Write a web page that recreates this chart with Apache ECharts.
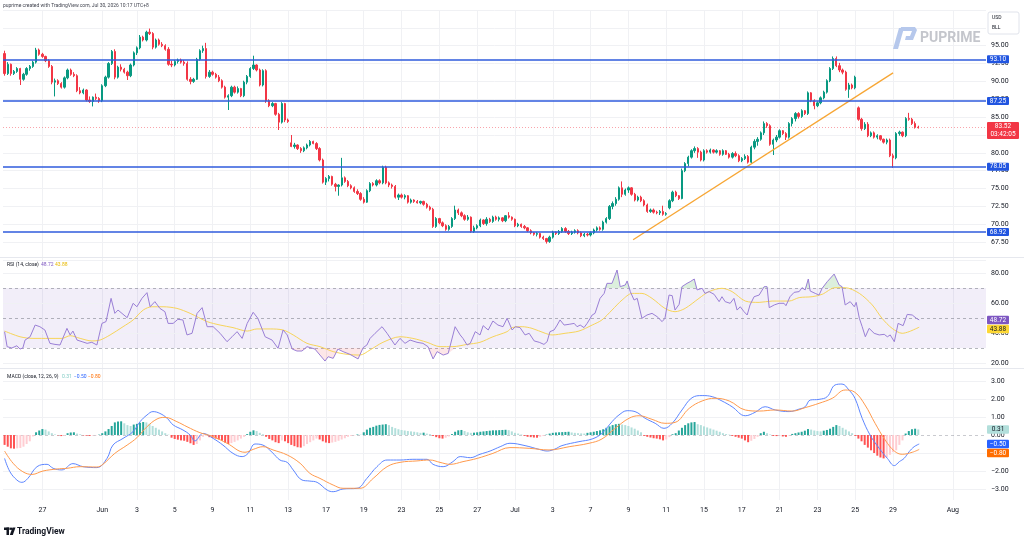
<!DOCTYPE html>
<html><head><meta charset="utf-8">
<script src="https://cdn.jsdelivr.net/npm/echarts@6.0.0/dist/echarts.min.js"></script>
<style>html,body{margin:0;padding:0;background:#fff}#c{width:1024px;height:542px}</style>
</head><body><div id="c"></div><script>
// ---------- DATA ----------
const dateTicks = [[12,'27'],[31,'Jun'],[42,'3'],[54,'5'],[66,'9'],[78,'11'],[90,'13'],[102,'17'],[114,'19'],[126,'23'],[138,'25'],[150,'27'],[162,'Jul'],[174,'3'],[186,'7'],[198,'9'],[210,'11'],[222,'15'],[234,'17'],[246,'21'],[258,'23'],[270,'25'],[282,'29'],[301,'Aug']];
// 4H bars: [open, high, low, close]
const ohlc = [
[93.9,94.3,90.8,91.1],[91.1,92.7,90.9,92.4],[92.4,92.5,90.8,91.1],[91.1,91.6,90.9,91.4],[91.4,92.0,91.2,91.8],[91.8,91.9,89.5,90.3],
[90.3,91.2,90.1,91.0],[91.0,92.0,90.8,91.8],[91.8,92.3,91.5,92.1],[92.1,92.9,91.9,92.7],[92.7,94.7,92.5,94.4],[94.4,94.6,93.6,93.8],
[93.8,94.0,93.3,93.5],[93.5,93.6,92.7,92.9],[92.9,93.1,91.9,92.1],[92.1,92.3,89.6,89.9],[89.9,90.4,87.9,90.1],[90.1,90.3,89.5,89.7],
[89.7,89.9,89.0,89.2],[89.2,90.7,89.0,90.5],[90.5,91.8,90.3,91.6],[91.6,91.8,90.8,91.0],[91.0,91.3,90.6,90.8],[90.8,91.0,88.5,88.7],
[88.7,89.2,88.2,88.4],[88.4,89.0,88.2,88.8],[88.8,88.9,87.2,87.4],[87.4,87.9,87.0,87.2],[87.2,87.9,86.5,87.8],[87.8,88.3,87.4,87.6],
[87.6,87.8,87.0,87.3],[87.3,89.6,87.1,89.4],[89.4,90.8,89.2,90.6],[90.6,92.7,90.4,92.5],[92.5,94.4,92.3,94.2],[94.2,94.5,90.3,90.6],
[90.6,92.2,90.4,92.0],[92.0,92.4,91.4,91.7],[91.7,91.9,91.1,91.3],[91.3,91.5,90.2,90.8],[90.8,92.5,90.6,92.3],[92.3,94.2,92.1,94.0],
[94.0,94.9,93.7,94.7],[94.7,96.5,94.5,96.2],[96.2,96.4,95.6,95.8],[95.8,97.1,95.6,96.9],[96.9,97.4,96.5,96.7],[96.7,96.9,94.5,94.8],
[94.8,96.0,94.6,95.8],[95.8,96.0,95.0,95.2],[95.2,95.5,94.8,95.0],[95.0,95.2,94.3,94.5],[94.5,94.8,92.2,92.4],[92.4,92.9,92.0,92.3],
[92.3,93.0,92.1,92.8],[92.8,93.2,92.5,93.0],[93.0,93.2,92.5,92.7],[92.7,93.0,92.2,92.5],[92.5,92.8,90.1,90.3],[90.3,90.6,89.6,90.0],
[90.0,90.5,89.8,90.3],[90.3,93.3,90.2,93.1],[93.1,94.5,92.9,94.3],[94.3,95.0,94.0,94.6],[94.6,95.4,90.4,90.7],[90.7,91.6,90.5,91.3],
[91.3,91.5,90.8,91.0],[91.0,91.2,90.4,90.6],[90.6,90.9,89.9,90.1],[90.1,90.3,89.0,89.2],[89.2,89.4,87.6,87.8],[87.8,88.2,86.0,88.0],
[88.0,89.4,87.8,89.2],[89.2,89.4,88.3,88.5],[88.5,89.3,88.3,89.0],[89.0,89.1,87.8,88.0],[88.0,90.1,87.8,89.9],[89.9,90.9,89.6,90.7],
[90.7,92.0,90.5,91.8],[91.8,93.6,91.6,92.3],[92.3,92.4,91.4,91.6],[91.6,91.8,89.3,89.5],[89.5,91.7,89.3,91.5],[91.5,91.7,87.0,87.3],
[87.3,87.5,86.4,86.6],[86.6,87.1,86.4,86.9],[86.9,87.0,85.2,85.4],[85.4,85.6,83.2,84.3],[84.3,87.1,84.1,86.9],[86.9,87.0,84.3,84.6],
[84.6,84.8,84.2,84.4],[81.4,82.5,80.8,80.9],[80.9,81.4,80.6,81.1],[81.1,81.2,80.4,80.6],[80.6,80.8,80.0,80.3],[80.3,80.9,80.1,80.7],
[80.7,81.3,80.5,81.1],[81.1,81.8,80.9,81.6],[81.6,81.7,81.2,81.3],[81.3,81.5,80.4,80.6],[80.6,80.8,78.8,79.0],[79.0,79.2,75.7,75.9],
[75.9,76.6,75.5,76.4],[76.4,76.9,76.0,76.7],[76.7,76.8,75.4,75.6],[75.6,75.8,74.6,75.3],[75.3,75.6,74.0,75.5],[75.5,79.3,75.3,76.5],
[76.5,76.7,75.8,76.0],[76.0,76.2,75.2,75.4],[75.4,75.6,74.9,75.1],[75.1,75.3,74.4,74.6],[74.6,74.9,74.1,74.3],[74.3,74.5,73.3,73.5],
[73.5,73.8,72.9,73.1],[73.1,74.9,73.0,74.7],[74.7,75.9,74.5,75.7],[75.7,75.9,75.3,75.5],[75.5,76.3,75.3,76.1],[76.1,76.3,75.6,75.8],
[75.8,78.2,75.6,78.0],[78.0,78.2,75.6,75.8],[75.8,76.0,75.2,75.5],[75.5,75.7,75.0,75.3],[75.3,75.5,73.6,73.8],[73.8,74.3,73.4,74.1],
[74.1,74.3,73.6,73.8],[73.8,74.2,73.5,74.0],[74.0,74.1,72.9,73.1],[73.1,73.6,72.9,73.4],[73.4,73.5,73.0,73.2],[73.2,73.4,72.9,73.0],
[73.0,73.3,72.8,73.2],[73.2,73.3,72.6,72.8],[72.8,73.0,72.2,72.4],[72.4,72.6,71.9,72.1],[72.1,72.3,69.5,69.7],[69.7,71.0,69.5,70.8],
[70.8,70.9,70.0,70.2],[70.2,70.4,69.6,69.8],[69.8,70.0,69.1,69.3],[69.3,69.9,69.1,69.7],[69.7,71.0,69.5,70.8],[70.8,72.6,70.6,72.0],
[72.0,72.2,71.3,71.6],[71.6,71.8,71.0,71.2],[71.2,71.4,70.5,70.7],[70.7,71.3,70.5,71.0],[71.0,71.1,68.8,69.0],[69.0,69.8,68.8,69.5],
[69.5,70.0,69.3,69.8],[69.8,70.8,69.6,70.6],[70.6,70.7,69.9,70.1],[70.1,71.0,69.8,70.7],[70.7,70.9,70.2,70.4],[70.4,71.2,70.2,71.0],
[71.0,71.2,70.5,70.7],[70.7,71.1,70.4,70.9],[70.9,71.0,70.3,70.5],[70.5,71.3,70.3,71.2],[71.2,71.7,70.8,71.0],[71.0,71.1,70.5,70.7],
[70.7,70.8,69.6,69.8],[69.8,70.2,69.6,70.0],[70.0,70.1,69.5,69.7],[69.7,69.9,69.3,69.5],[69.5,69.6,68.9,69.1],[69.1,69.3,68.6,68.8],
[68.8,68.9,68.4,68.6],[68.6,68.9,68.3,68.7],[68.7,68.8,68.0,68.2],[68.2,68.4,67.8,68.0],[68.0,68.1,67.3,67.6],[67.6,68.4,67.4,68.2],
[68.2,69.1,68.0,68.9],[68.9,69.0,68.5,68.7],[68.7,69.2,68.5,69.0],[69.0,69.6,68.8,69.4],[69.4,69.6,68.8,69.0],[69.0,69.2,68.5,68.7],
[68.7,69.1,68.5,68.9],[68.9,69.3,68.7,69.1],[69.1,69.3,68.6,68.8],[68.8,69.0,68.2,68.4],[68.4,68.8,68.2,68.6],[68.6,68.8,68.3,68.5],
[68.5,69.0,68.3,68.8],[68.8,69.4,68.6,69.2],[69.2,69.7,69.0,69.5],[69.5,69.7,69.1,69.3],[69.3,70.5,69.1,70.3],[70.3,71.0,70.1,70.8],
[70.8,72.7,70.6,72.5],[72.5,73.2,72.1,72.9],[72.9,73.8,72.6,73.5],[73.5,75.3,73.3,75.1],[75.1,76.0,73.8,74.2],[74.2,75.0,74.0,74.8],
[74.8,75.3,74.4,75.1],[75.1,75.2,74.0,74.2],[74.2,74.4,73.2,73.4],[73.4,74.0,73.2,73.8],[73.8,74.0,73.1,73.3],[73.3,73.5,72.5,72.7],
[72.7,72.9,71.6,71.8],[71.8,72.2,71.6,72.0],[72.0,72.2,71.5,71.7],[71.7,71.9,71.4,71.6],[71.6,72.0,71.3,71.8],[71.8,72.6,71.2,71.4],
[71.4,71.7,71.2,71.5],[72.3,73.5,72.1,73.3],[73.3,74.7,73.1,74.5],[74.5,74.7,73.8,74.0],[74.0,74.1,73.4,73.6],[73.6,77.8,73.5,77.5],
[77.5,78.7,77.3,78.5],[78.5,79.6,78.1,79.4],[79.4,80.5,79.2,80.3],[80.3,80.9,80.0,80.6],[80.6,80.8,79.3,80.1],[80.1,80.3,78.8,79.0],
[79.0,80.5,78.8,80.3],[80.3,80.5,79.9,80.1],[80.1,80.6,79.9,80.4],[80.4,80.5,79.9,80.1],[80.1,80.5,79.9,80.3],[80.3,80.4,79.6,79.8],
[79.8,80.5,79.6,80.3],[80.3,80.4,79.7,79.8],[79.8,80.0,79.2,79.4],[79.4,80.1,79.2,79.9],[79.9,80.2,79.4,79.6],[79.6,79.8,78.7,78.9],
[78.9,79.4,78.7,79.2],[79.2,79.8,79.0,79.5],[79.5,79.7,78.5,78.7],[78.7,81.0,78.5,80.8],[80.8,81.9,80.5,81.6],[81.6,82.2,81.0,81.9],
[81.9,83.0,81.7,82.8],[82.8,84.4,82.5,84.1],[84.1,84.3,83.5,83.8],[83.8,84.0,81.0,81.2],[81.2,82.0,79.7,81.8],[81.8,82.5,81.5,82.2],
[82.2,83.3,82.0,83.1],[83.1,83.2,82.5,82.7],[82.7,82.9,81.8,82.2],[82.2,84.3,82.0,84.1],[84.1,85.0,83.7,84.8],[84.8,85.7,84.4,85.5],
[85.5,85.7,84.8,85.1],[85.1,86.1,84.9,85.9],[85.9,86.0,85.3,85.5],[85.5,88.6,85.3,88.4],[88.4,88.5,87.1,87.3],[87.3,87.5,86.1,86.6],
[86.6,87.2,86.4,87.0],[87.0,87.9,86.8,87.7],[87.7,88.7,87.5,88.5],[88.5,90.3,88.3,90.1],[90.1,92.0,89.9,91.8],[91.8,93.5,91.6,93.2],
[93.2,93.5,92.0,92.2],[92.2,92.6,91.3,91.6],[91.6,91.8,91.0,91.3],[91.3,91.5,88.7,88.9],[88.9,89.8,87.7,89.5],[89.5,89.7,88.9,89.1],
[89.1,90.8,88.9,90.6],[86.3,86.5,84.5,84.7],[84.7,84.9,83.1,83.4],[83.4,84.3,83.2,84.0],[84.0,84.3,82.2,82.4],[82.4,83.0,82.2,82.8],
[82.8,83.0,82.0,82.2],[82.2,82.6,81.9,82.4],[82.4,82.5,81.7,81.9],[81.9,82.0,81.3,81.5],[81.5,82.0,81.2,81.8],[81.8,82.0,79.4,79.6],
[79.6,79.9,77.9,79.3],[79.3,82.9,79.1,82.7],[82.7,83.1,82.4,82.9],[82.9,83.0,82.2,82.4],[82.4,85.0,82.2,84.8],[84.8,85.6,84.5,84.7],
[84.7,84.9,83.9,84.1],[84.1,84.4,83.4,83.6],[83.6,83.8,83.4,83.52]
];
const levels = [93.10, 87.25, 78.05, 68.92];
const trendLine = [[199.5, 67.83], [282, 91.2]];
const lastPrice = 83.52;
const countdown = '03:42:05';

// RSI (bar index, value)
const rsi = [[0,40.9],[0.8,30.9],[2.3,30],[3.9,31.5],[4.9,29.3],[5.8,30],[6.5,35.3],[8.1,37.5],[9.7,45.3],[11.2,44.2],[12.8,42],[14.4,33.1],[16,32.4],[17.6,32],[19.8,43.1],[20.8,38.7],[21.7,41.3],[23,35.3],[24.6,34.2],[26.2,33.1],[27.7,33.8],[29.3,32],[30.9,46.4],[32.2,47.6],[33.8,63.1],[35,53.1],[36,55.3],[38.9,50.2],[40.8,59.8],[42,57.5],[43.6,63.1],[45.2,66.9],[46.2,57.5],[47.7,60.9],[49.3,56.4],[50.9,54.2],[51.9,46.4],[53.5,46.4],[55,49.1],[56.6,48.7],[57.9,38.7],[59.5,39.8],[61.1,53.1],[62.7,56.9],[64.3,44.2],[66.2,44.2],[68.4,39.8],[70.6,34.2],[72.2,37.5],[73.8,40.9],[75.4,36.4],[77,46.4],[78.9,53.8],[80.4,49.8],[82.7,37.5],[84.9,35.3],[86.8,29.8],[88.4,42],[89.7,38.7],[91.3,29.3],[92.8,28],[94.4,28],[96,30.9],[98.5,29.3],[100.1,25.3],[101.7,21.3],[102.7,24.2],[104.3,23.1],[105.8,29.3],[107.4,27.6],[109.6,25.8],[112.2,22.7],[113.8,30.2],[115,32],[116,36.4],[117.6,39.8],[119.8,44.2],[121.4,39.8],[123.9,32],[125.5,36.4],[127.1,33.1],[128.7,35.3],[130.9,33.8],[132.8,33.1],[134.4,30.9],[136,22.7],[137.3,27.6],[139.2,25.3],[140.8,26.4],[143,44.2],[144.6,38.7],[145.5,36.4],[146.8,32],[147.8,33.1],[149.4,40.9],[150.9,38.7],[151.9,44.9],[153.5,42],[155,48],[156.6,45.3],[158.2,44.2],[159.5,49.8],[161.1,42],[162.1,44.2],[163.6,43.6],[165.2,38.7],[166.5,39.8],[168.1,34.7],[169.7,33.8],[171.2,32.4],[172.2,34.2],[173.1,40.9],[174.4,42],[175.4,45.3],[176.3,48.7],[177.6,45.3],[179.2,45.8],[180.8,46.4],[181.7,44.2],[182.7,45.3],[183.9,43.6],[184.9,46.4],[186.5,52],[187.4,53.1],[189,63.1],[190.3,66.4],[191.2,73.1],[192.8,73.1],[194.4,82],[195.4,70.9],[197,72],[197.6,74.7],[198.6,67.6],[199.8,62],[200.8,63.1],[202.3,49.8],[203.9,52],[205.5,53.1],[207.1,50.9],[208.7,47.6],[209.6,49.8],[210.9,65.3],[211.9,64.9],[212.8,55.3],[214.1,59.1],[215,70.9],[216.6,73.1],[217.6,74.2],[218.9,76],[219.8,68.7],[221.4,69.8],[222.3,66.4],[223.6,67.6],[225.2,65.8],[226.8,60.9],[227.7,64.2],[228.7,60.9],[230.3,59.8],[231.5,63.1],[232.5,55.3],[233.5,57.5],[234.7,54.2],[235.7,52],[236.6,58.7],[237.9,64.2],[239.5,65.3],[241.1,70.9],[242,70.9],[242.7,56.9],[244.3,58.7],[245.8,59.8],[247.4,59.8],[248,58.2],[249.3,64.2],[250.6,67.1],[252.2,67.6],[253.1,70.2],[254.1,68.7],[255.1,76],[255.7,68],[257.3,66.4],[258.5,65.3],[259.5,69.8],[261.1,74.2],[263.3,79.3],[264.9,72],[265.8,70.9],[266.8,58.7],[268.4,60.9],[269.7,57.5],[270.3,60.4],[271.3,49.8],[272.2,44.2],[273.2,37.5],[274.4,43.1],[276,39.8],[277.6,38.7],[279.2,39.1],[280.2,37.5],[281.1,38.7],[282.4,34.2],[283,35.3],[283.6,46.4],[285.2,44.9],[286.5,52.4],[288.1,52],[289.4,49.8],[290.3,48.72]];
const rsiMA = [[0,41.3],[4.9,37.5],[9,36.4],[14.4,36.4],[18.2,36.4],[20.8,38.2],[24,36.4],[27.7,34.7],[30.3,35.3],[33.5,38.7],[37.6,44.2],[40.8,48.7],[44,55.3],[46.8,57.5],[50.3,57.5],[54.7,56.4],[58.9,53.1],[64.3,47.6],[68.4,45.3],[72.5,43.6],[77,41.3],[80.1,42.7],[84.3,42.7],[88.4,42],[91.6,38.7],[96,33.1],[100.1,30.9],[104.3,27.6],[108.7,25.8],[112.8,25.3],[116,28.7],[120.1,33.8],[125.5,37.5],[129.6,36.4],[134.1,33.8],[138.2,30.9],[142.3,30.9],[146.8,32.4],[150.9,33.8],[155,37.5],[159.5,40.9],[161.1,43.6],[164.3,44.2],[167.4,43.1],[171.6,39.8],[173.8,38.7],[177.9,39.8],[182.3,41.3],[186.5,45.3],[189.6,48.7],[192.8,55.3],[196,62],[199.2,66.4],[202.3,66.4],[205.5,63.1],[209.6,56.4],[212.8,54.2],[216,56.4],[220.4,63.1],[223.6,67.6],[227.7,69.8],[230.9,67.6],[235.1,61.3],[239.5,60.4],[243.6,61.3],[249,61.3],[252.2,63.6],[256.3,64.2],[259.5,65.8],[263.6,70.2],[266.8,70.2],[271.3,66.4],[275.4,58.7],[278.5,49.8],[281.7,43.1],[284.9,39.8],[287.1,40.9],[290.3,43.88]];

// MACD (12,26,9)
const macdLine = [[0,-1.3],[1.7,-2.04],[3.9,-2.5],[5.5,-2.63],[7.4,-2.41],[10.3,-1.76],[13.5,-1.63],[15.4,-1.85],[18.2,-1.94],[21.7,-1.59],[24.9,-1.76],[29.3,-1.81],[32.5,-1.3],[34.4,-0.56],[37.6,-0.19],[40.8,0.19],[43,0.74],[45.2,1.11],[47.1,1.3],[49.3,1.2],[51.6,0.93],[53.5,0.56],[56.6,0.28],[58.9,0],[60.4,-0.33],[63,0.09],[66.2,-0.19],[69.3,-0.56],[72.5,-1.02],[75.4,-1.2],[77.3,-1.02],[79.5,-0.5],[82,-0.56],[84.9,-0.96],[87.4,-1.39],[89.7,-1.52],[91.6,-1.94],[94.4,-2.5],[96.9,-2.56],[99.2,-2.63],[102.4,-3.06],[104.3,-3.15],[107.4,-3.0],[111.9,-2.96],[115,-2.41],[118.2,-1.76],[121.4,-1.39],[125.5,-1.39],[129.6,-1.35],[134.1,-1.35],[136,-1.63],[139.2,-1.76],[142.3,-1.48],[144.6,-1.2],[147.8,-1.26],[150.9,-1.07],[154.1,-0.89],[157.3,-0.65],[160.4,-0.46],[165.2,-0.59],[169.7,-0.8],[172.2,-0.89],[174.7,-0.78],[176.9,-0.59],[182.3,-0.37],[186.5,-0.22],[189.6,0.09],[192.8,0.74],[195,1.11],[197.6,1.35],[200.1,1.3],[203.3,0.93],[206.5,0.65],[209.3,0.37],[211.9,0.65],[215,1.39],[218.2,2.07],[221.4,2.19],[224.6,2.13],[227.7,1.89],[230.9,1.57],[235.1,1.07],[238.2,1.26],[241.4,1.57],[244.6,1.39],[249,1.3],[252.2,1.44],[254.1,1.57],[255.7,1.94],[258.5,1.98],[261.1,2.13],[263.6,2.78],[265.8,2.83],[268,2.5],[269.9,2.04],[272.2,0.93],[274.7,0],[277.6,-0.74],[280.2,-1.3],[282.4,-1.7],[284,-1.48],[285.5,-1.3],[287.1,-0.93],[288.7,-0.65],[290.3,-0.5]];
const signalLine = [[0,-0.89],[2.7,-1.57],[5.8,-2.04],[8.7,-2.19],[12.2,-2.0],[16.6,-1.89],[19.8,-1.85],[24,-1.76],[29.3,-1.78],[31.2,-1.63],[35,-1.02],[38.9,-0.56],[42,-0.15],[45.2,0.46],[48.4,0.89],[50.9,0.98],[54.7,0.74],[57.9,0.46],[62,0.13],[66.2,-0.09],[70.6,-0.46],[76.3,-0.96],[78.9,-0.8],[82,-0.65],[85.2,-0.83],[89.7,-1.11],[93.8,-1.57],[96.9,-2.13],[100.1,-2.41],[104.3,-2.78],[107.4,-2.96],[112.8,-2.96],[117,-2.41],[121.4,-1.76],[125.5,-1.52],[130.9,-1.44],[135,-1.39],[138.2,-1.52],[141.4,-1.63],[145.5,-1.48],[150,-1.3],[155,-1.02],[160.4,-0.7],[166.5,-0.74],[172.8,-0.83],[179.2,-0.65],[185.5,-0.46],[189.6,-0.22],[193.8,0.37],[198.2,0.93],[201.4,1.07],[205.5,0.87],[209.6,0.65],[212.8,0.7],[217.3,1.48],[221.4,1.89],[225.5,2.04],[230,1.89],[235.1,1.39],[239.5,1.33],[244.6,1.39],[250,1.33],[254.1,1.52],[258.5,1.76],[262.7,2.04],[266.8,2.5],[269.9,2.37],[273.1,1.67],[276.3,0.65],[279.5,-0.28],[282.4,-0.89],[284.9,-1.07],[288.1,-0.96],[290.3,-0.8]];
const histogram = [
-0.55,-0.65,-0.74,-0.76,-0.74,-0.72,-0.65,-0.5,-0.35,-0.08,0.15,0.25,0.33,0.3,0.2,0.1,0.03,-0.02,-0.06,-0.04,
0.1,0.14,0.15,0.08,0.04,-0.02,-0.04,-0.05,-0.03,-0.02,0.02,0.1,0.2,0.33,0.5,0.7,0.75,0.76,0.65,0.55,
0.5,0.58,0.62,0.68,0.72,0.7,0.62,0.5,0.4,0.3,0.2,0.1,0.02,-0.15,-0.22,-0.26,-0.3,-0.32,-0.38,-0.46,
-0.55,-0.5,-0.3,-0.1,-0.05,-0.12,-0.16,-0.2,-0.25,-0.32,-0.42,-0.5,-0.45,-0.38,-0.3,-0.2,-0.1,0.05,0.18,0.26,
0.22,0.12,0.04,-0.1,-0.22,-0.3,-0.4,-0.45,-0.3,-0.35,-0.45,-0.55,-0.62,-0.68,-0.7,-0.62,-0.5,-0.4,-0.3,-0.2,
-0.25,-0.35,-0.42,-0.45,-0.42,-0.38,-0.32,-0.25,-0.18,-0.1,-0.05,-0.02,0.03,0.02,0.15,0.3,0.4,0.45,0.52,0.56,
0.58,0.6,0.55,0.45,0.38,0.32,0.28,0.25,0.22,0.2,0.18,0.15,0.12,0.13,0.08,0.05,-0.05,-0.12,-0.18,-0.2,
-0.15,-0.08,0.05,0.18,0.26,0.28,0.22,0.15,0.12,0.13,0.15,0.18,0.2,0.22,0.24,0.26,0.26,0.27,0.28,0.29,
0.27,0.2,0.12,0.08,0.03,-0.05,-0.1,-0.12,-0.14,-0.15,-0.1,-0.05,0.02,0.08,0.12,0.14,0.15,0.16,0.17,0.18,
0.14,0.12,0.1,0.09,0.08,0.12,0.15,0.18,0.22,0.26,0.32,0.4,0.48,0.55,0.6,0.62,0.58,0.55,0.5,0.42,
0.35,0.25,0.15,-0.05,-0.1,-0.14,-0.18,-0.2,-0.24,-0.3,-0.25,-0.12,0.04,0.1,0.25,0.4,0.55,0.65,0.7,0.72,
0.6,0.55,0.48,0.42,0.36,0.3,0.24,0.18,0.1,0.05,0.02,-0.05,-0.1,-0.15,-0.2,-0.3,-0.4,-0.32,-0.22,-0.1,
0.1,0.18,0.1,0.03,-0.05,-0.06,-0.03,-0.08,-0.1,-0.03,0.06,0.1,0.14,0.18,0.24,0.33,0.3,0.25,0.22,0.2,
0.24,0.28,0.35,0.45,0.55,0.5,0.4,0.3,0.2,0.1,-0.05,-0.2,-0.35,-0.55,-0.7,-0.85,-1.0,-1.15,-1.25,-1.3,
-1.25,-1.1,-0.95,-0.85,-0.55,-0.3,0.08,0.22,0.32,0.35,0.31
];
const priceTickHide = [65, 100];
const rsiBands = {overbought: 70, middle: 50, oversold: 30};

// ---------- BUILD ----------
const N = 312;
const FONT = 'Roboto, "Liberation Sans", Arial, sans-serif';
const cats = Array.from({length: N}, (_, i) => i);
const labelMap = {};
dateTicks.forEach(([i, t]) => { labelMap[i] = t; });
const axisCats = cats.map(i => labelMap[i] || '');
const fmt = v => (v < 0 ? '\u2212' : '') + Math.abs(v).toFixed(2);
const candleData = ohlc.map(b => [b[0], b[3], b[2], b[1]]);
const histData = histogram.map((v, i) => {
  const p = i > 0 ? histogram[i - 1] : v;
  const c = v >= 0 ? (v >= p ? '#26a69a' : '#b2dfdb') : (v <= p ? '#ff5252' : '#ffcdd2');
  return {value: [i, v], itemStyle: {color: c}};
});
// clamped copies of the RSI used only to paint the overbought / oversold fills
const rsiOB = rsi.map(([x, v]) => [x, Math.max(v, rsiBands.overbought)]);
const rsiOS = rsi.map(([x, v]) => [x, Math.min(v, rsiBands.oversold)]);
const GRID_LINE = '#f0f1f4';
const hLine = (v, extra) => Object.assign({yAxis: v, lineStyle: {color: GRID_LINE, width: 1, type: 'solid'}, label: {show: false}}, extra || {});

const chart = echarts.init(document.getElementById('c'), null, {renderer: 'canvas'});
const axisLabelBase = {fontSize: 7, color: '#131722', fontFamily: FONT, margin: 5};

chart.setOption({
  animation: false,
  backgroundColor: '#ffffff',
  grid: [
    {left: 3, top: 10, width: 983, height: 250},
    {left: 3, top: 243, width: 983, height: 150},
    {left: 3, top: 363, width: 983, height: 144},
    {left: 4.575, top: 10, width: 979.8, height: 490}
  ],
  xAxis: [
    {type: 'category', gridIndex: 0, data: cats, boundaryGap: true, show: false},
    {type: 'value', gridIndex: 0, min: -0.5, max: N - 0.5, show: false},
    {type: 'value', gridIndex: 1, min: -0.5, max: N - 0.5, show: false},
    {type: 'value', gridIndex: 2, min: -0.5, max: N - 0.5, show: false},
    {type: 'category', gridIndex: 3, data: axisCats, boundaryGap: false,
      axisLine: {show: false}, axisTick: {show: false},
      axisLabel: {interval: (i, v) => v !== '', fontSize: 7, color: '#131722', fontFamily: FONT, margin: 6.5},
      splitLine: {show: true, interval: (i, v) => v !== '', lineStyle: {color: GRID_LINE, width: 1}}}
  ],
  yAxis: [
    {type: 'value', gridIndex: 0, position: 'right', min: 65, max: 100, interval: 2.5,
      axisLine: {show: false}, axisTick: {show: false},
      splitLine: {show: true, lineStyle: {color: GRID_LINE, width: 1}},
      axisLabel: Object.assign({}, axisLabelBase, {formatter: v => priceTickHide.includes(v) ? '' : fmt(v)})},
    {type: 'value', gridIndex: 1, position: 'right', min: 0, max: 100, interval: 20,
      axisLine: {show: false}, axisTick: {show: false}, splitLine: {show: false},
      axisLabel: Object.assign({}, axisLabelBase, {formatter: v => (v <= 0 || v >= 100) ? '' : fmt(v)})},
    {type: 'value', gridIndex: 2, position: 'right', min: -4, max: 4, interval: 1,
      axisLine: {show: false}, axisTick: {show: false}, splitLine: {show: false},
      axisLabel: Object.assign({}, axisLabelBase, {formatter: v => Math.abs(v) >= 4 ? '' : fmt(v)})},
    {type: 'value', gridIndex: 3, show: false}
  ],
  series: [
    {type: 'candlestick', xAxisIndex: 0, yAxisIndex: 0, data: candleData, barWidth: 1.8, z: 3,
      itemStyle: {color: '#089981', color0: '#f23645', borderColor: '#089981', borderColor0: '#f23645', borderWidth: 1},
      markLine: {silent: true, symbol: ['none', 'none'], z: 5, label: {show: false},
        data: levels.map(v => ({yAxis: v, lineStyle: {color: '#2f5bdc', width: 1.5, type: 'solid'}}))
          .concat([{yAxis: lastPrice, lineStyle: {color: 'rgba(242,54,69,0.45)', width: 1, type: [1, 2]}}])}},
    {type: 'line', xAxisIndex: 1, yAxisIndex: 0, data: trendLine, symbol: 'none', z: 4,
      lineStyle: {color: '#f7a634', width: 1.3}},
    {type: 'line', xAxisIndex: 2, yAxisIndex: 1, data: rsiOB, symbol: 'none', z: 2,
      lineStyle: {opacity: 0}, areaStyle: {origin: rsiBands.overbought, color: 'rgba(76,175,80,0.28)'}},
    {type: 'line', xAxisIndex: 2, yAxisIndex: 1, data: rsiOS, symbol: 'none', z: 2,
      lineStyle: {opacity: 0}, areaStyle: {origin: rsiBands.oversold, color: 'rgba(242,54,69,0.18)'}},
    {type: 'line', xAxisIndex: 2, yAxisIndex: 1, data: rsiMA, symbol: 'none', smooth: 0.3, z: 3,
      lineStyle: {color: '#f7d45a', width: 1},
      markArea: {silent: true, z: 1, itemStyle: {color: 'rgba(126,87,194,0.10)'}, data: [[{yAxis: rsiBands.oversold}, {yAxis: rsiBands.overbought}]]}},
    {type: 'line', xAxisIndex: 2, yAxisIndex: 1, data: rsi, symbol: 'none', z: 4,
      lineStyle: {color: '#9a7fd6', width: 1},
      markLine: {silent: true, symbol: ['none', 'none'], z: 1.5, label: {show: false},
        data: [20, 40, 60, 80].map(v => hLine(v)).concat([rsiBands.overbought, rsiBands.middle, rsiBands.oversold].map(v => hLine(v, {lineStyle: {color: 'rgba(120,123,134,0.55)', width: 1, type: [3, 3]}})))}},
    {type: 'bar', xAxisIndex: 3, yAxisIndex: 2, data: histData, barWidth: 2, z: 3},
    {type: 'line', xAxisIndex: 3, yAxisIndex: 2, data: macdLine, symbol: 'none', smooth: 0.4, z: 4,
      lineStyle: {color: '#5d86ff', width: 1},
      markLine: {silent: true, symbol: ['none', 'none'], z: 1.5, label: {show: false},
        data: [3, 2, 1, -1, -2, -3].map(v => hLine(v)).concat([hLine(0, {lineStyle: {color: 'rgba(120,123,134,0.4)', width: 1, type: [3, 3]}})])}},
    {type: 'line', xAxisIndex: 3, yAxisIndex: 2, data: signalLine, symbol: 'none', smooth: 0.4, z: 4,
      lineStyle: {color: '#ff9a4d', width: 1}}
  ]
});

// ---------- TAGS & DECORATIONS ----------
const tagDefs = [
  {axis: 0, value: 93.10, text: '93.10', bg: '#2155e0', fg: '#fff', w: 22, h: 8},
  {axis: 0, value: 87.25, text: '87.25', bg: '#2155e0', fg: '#fff', w: 22, h: 8},
  {axis: 0, value: 78.05, text: '78.05', bg: '#2155e0', fg: '#fff', w: 22, h: 8},
  {axis: 0, value: 68.92, text: '68.92', bg: '#2155e0', fg: '#fff', w: 22, h: 8},
  {axis: 0, value: lastPrice, text: fmt(lastPrice) + '\n' + countdown, bg: '#f23645', fg: '#fff', w: 32, h: 17, anchor: 5.8},
  {axis: 1, value: 48.72, text: '48.72', bg: '#7e57c2', fg: '#fff', w: 22, h: 8.5},
  {axis: 1, value: 43.88, text: '43.88', bg: '#fdd835', fg: '#131722', w: 22, h: 8.5},
  {axis: 2, value: 0.31, text: '0.31', bg: '#b2dfdb', fg: '#131722', w: 22, h: 8.5},
  {axis: 2, value: -0.50, text: fmt(-0.50), bg: '#2962ff', fg: '#fff', w: 22, h: 8.5},
  {axis: 2, value: -0.80, text: fmt(-0.80), bg: '#ff6d00', fg: '#fff', w: 22, h: 8.5}
];
const graphics = [];
[0, 1, 2].forEach(ax => {
  const items = tagDefs.filter(t => t.axis === ax).map(t => Object.assign({}, t, {y: chart.convertToPixel({yAxisIndex: ax}, t.value)}));
  items.sort((a, b) => a.y - b.y);
  let prevBottom = -1e9;
  items.forEach(t => {
    let top = t.anchor ? t.y - t.anchor : t.y - t.h / 2;
    if (top < prevBottom + 0.5) top = prevBottom + 0.5;
    prevBottom = top + t.h;
    graphics.push({type: 'rect', z: 100, shape: {x: 987, y: top, width: t.w, height: t.h, r: 1}, style: {fill: t.bg}});
    graphics.push({type: 'text', z: 101, x: 987 + t.w / 2, y: top + t.h / 2,
      style: {text: t.text, fill: t.fg, fontSize: 6.5, fontFamily: FONT, align: 'center', verticalAlign: 'middle', lineHeight: 8}});
  });
});
const txt = (x, y, text, fill, size, weight, z) => ({type: 'text', z: z || 50, x: x, y: y,
  style: {text: text, fill: fill, fontSize: size, fontFamily: FONT, fontWeight: weight || 'normal', align: 'left', verticalAlign: 'middle'}});
graphics.push(txt(3, 6, 'puprime created with TradingView.com, Jul 30, 2026 10:17 UTC+8', '#434651', 5));
graphics.push(txt(7, 265, 'RSI (14, close)', '#131722', 5));
graphics.push(txt(41, 265, '48.72', '#7e57c2', 5));
graphics.push(txt(55, 265, '43.88', '#e8b900', 5));
graphics.push(txt(7, 377, 'MACD (close, 12, 26, 9)', '#131722', 5));
graphics.push(txt(62, 377, '0.31', '#80cbc4', 5));
graphics.push(txt(74, 377, '\u22120.50', '#2962ff', 5));
graphics.push(txt(88, 377, '\u22120.80', '#ff6d00', 5));
// pane separators
graphics.push({type: 'line', z: 20, shape: {x1: 0, y1: 257.5, x2: 1024, y2: 257.5}, style: {stroke: '#e6e8ee', lineWidth: 1}});
graphics.push({type: 'line', z: 20, shape: {x1: 0, y1: 368.5, x2: 1024, y2: 368.5}, style: {stroke: '#e6e8ee', lineWidth: 1}});
// currency box
graphics.push({type: 'rect', z: 60, shape: {x: 988, y: 12, width: 31, height: 22, r: 2}, style: {fill: '#ffffff', stroke: '#e0e3eb', lineWidth: 1}});
graphics.push(txt(992, 17.5, 'USD', '#131722', 5, 'normal', 61));
graphics.push(txt(992, 28, 'BLL', '#131722', 5, 'normal', 61));
// watermark
graphics.push({type: 'polygon', z: 40, shape: {points: [[893, 49], [899, 28], [904, 28], [898, 49]]}, style: {fill: '#b6c8ec'}});
graphics.push({type: 'polygon', z: 40, shape: {points: [[901, 27], [915, 27], [917, 30], [913, 40], [905, 40], [906, 36], [910, 36], [912, 31], [900, 31]]}, style: {fill: '#b6c8ec'}});
graphics.push(txt(920, 38, 'PUPRIME', '#c4c6cc', 14, 'bold'));
// TradingView logo
graphics.push({type: 'rect', z: 40, shape: {x: 4, y: 527.5, width: 5.5, height: 2.5}, style: {fill: '#131722'}});
graphics.push({type: 'rect', z: 40, shape: {x: 6.5, y: 527.5, width: 2.5, height: 7.5}, style: {fill: '#131722'}});
graphics.push({type: 'circle', z: 40, shape: {cx: 11, cy: 528.8, r: 1.3}, style: {fill: '#131722'}});
graphics.push({type: 'polygon', z: 40, shape: {points: [[12.5, 527.5], [15.5, 527.5], [12.8, 535], [9.8, 535]]}, style: {fill: '#131722'}});
graphics.push(txt(17, 531.5, 'TradingView', '#131722', 8.5, 'bold'));
chart.setOption({graphic: graphics});
</script></body></html>
